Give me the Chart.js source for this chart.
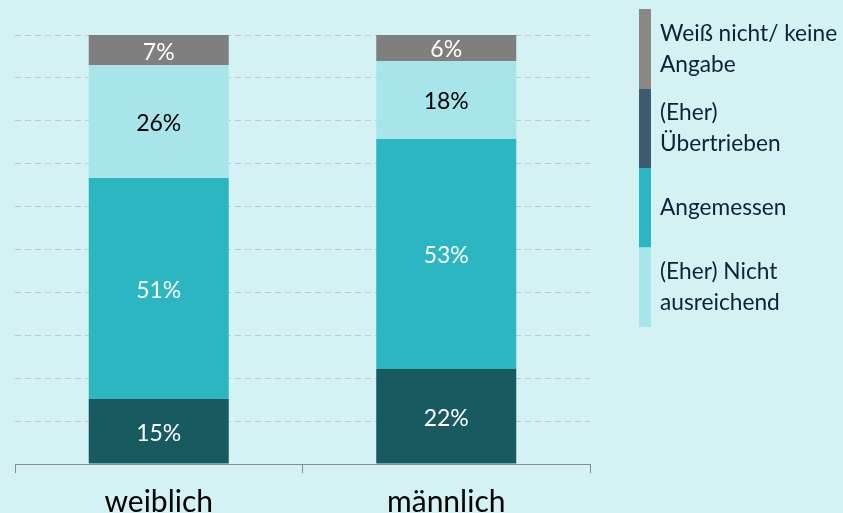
<!DOCTYPE html>
<html>
<head>
<meta charset="utf-8">
<script src="https://cdn.jsdelivr.net/npm/chart.js@4/dist/chart.umd.min.js"></script>
<style>
html,body{margin:0;padding:0;background:#d4f1f4;}
#wrap{width:843px;height:513px;position:relative;}
</style>
</head>
<body>
<div id="wrap"><canvas id="c" width="843" height="513"></canvas></div>
<script>
const categories = ["weiblich", "männlich"];
const seriesNames = ["(Eher)\nÜbertrieben", "Angemessen", "(Eher) Nicht\nausreichend", "Weiß nicht/ keine\nAngabe"];
const uebertrieben = [15, 22];
const angemessen = [51, 53];
const nichtAusreichend = [26, 18];
const weissNicht = [7, 6];

const barColors = ["#175b60", "#2cb6c1", "#a8e5eb", "#7f7f7f"];
const legendColors = ["#3e5b6d", "#2cb6c1", "#a8e5eb", "#8a8682"];
const labelColors = ["#ffffff", "#ffffff", "#000000", "#ffffff"];
const FONT = "Lato, 'Open Sans', sans-serif";

const values = [uebertrieben, angemessen, nichtAusreichend, weissNicht];
const total = values.reduce((s, arr) => s + arr[0], 0);

const datasets = values.map((v, i) => ({
  label: seriesNames[i],
  data: v,
  backgroundColor: barColors[i],
  borderWidth: 0,
  barPercentage: 0.487,
  categoryPercentage: 1.0
}));

const dataLabels = {
  id: 'dataLabels',
  afterDatasetsDraw(chart) {
    const ctx = chart.ctx;
    ctx.save();
    ctx.font = "23px " + FONT;
    ctx.textAlign = "center";
    ctx.textBaseline = "middle";
    chart.data.datasets.forEach((ds, i) => {
      const meta = chart.getDatasetMeta(i);
      meta.data.forEach((bar, j) => {
        const y = (bar.y + bar.base) / 2 + 2;
        ctx.fillStyle = labelColors[i];
        ctx.fillText(ds.data[j] + "%", bar.x, y);
      });
    });
    ctx.restore();
  }
};

const sideLegend = {
  id: 'sideLegend',
  afterDraw(chart) {
    const ctx = chart.ctx;
    const area = chart.chartArea;
    const swX = area.right + 49, swW = 12;
    const textX = swX + 21;
    const segH = 79.5;
    const top = 9;
    const lineH = 31;
    ctx.save();
    ctx.font = "22.7px " + FONT;
    ctx.textBaseline = "middle";
    ctx.textAlign = "left";
    const order = [3, 0, 1, 2];
    order.forEach((di, k) => {
      const y0 = top + k * segH;
      ctx.fillStyle = legendColors[di];
      ctx.fillRect(swX, y0, swW, segH);
      const lines = chart.data.datasets[di].label.split("\n");
      const cy = y0 + segH / 2;
      ctx.fillStyle = "#0c2237";
      lines.forEach((ln, li) => {
        ctx.fillText(ln, textX, cy + (li - (lines.length - 1) / 2) * lineH);
      });
    });
    ctx.restore();
  }
};

new Chart(document.getElementById("c"), {
  type: "bar",
  data: { labels: categories, datasets },
  plugins: [dataLabels, sideLegend],
  options: {
    responsive: false,
    animation: false,
    layout: { padding: { left: 15, right: 253, top: 35, bottom: 0 } },
    plugins: { legend: { display: false }, tooltip: { enabled: false } },
    scales: {
      x: {
        stacked: true,
        afterFit(scale) { scale.height = 49; },
        grid: { display: true, drawOnChartArea: false, offset: true, color: "#8c8c8c", tickLength: 9 },
        border: { display: true, color: "#8c8c8c", width: 1 },
        ticks: { color: "#000000", font: { size: 30, family: FONT }, padding: 11 }
      },
      y: {
        stacked: true,
        min: 0,
        max: total,
        ticks: { display: false, count: 11 },
        grid: { color: "#c6c6c6", drawTicks: false, lineWidth: 1 },
        border: { display: false, dash: [6, 4] }
      }
    }
  }
});
</script>
</body>
</html>
